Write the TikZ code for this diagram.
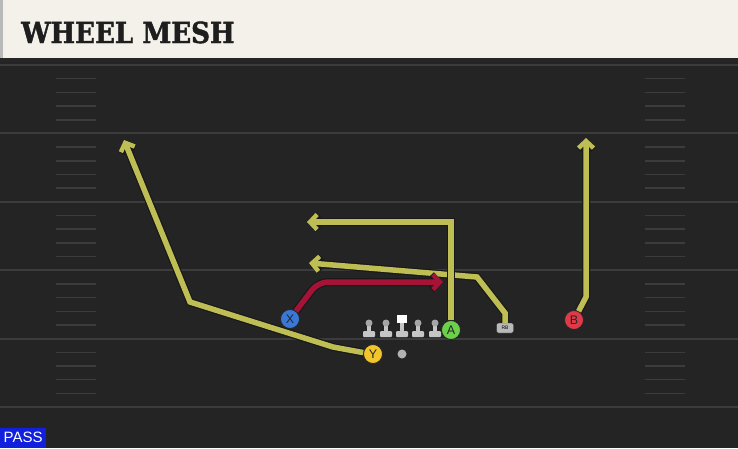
\documentclass[tikz,border=0pt]{standalone}
\usepackage{fontspec}
\setmainfont{Liberation Sans}
\newfontfamily\titlefont[FakeStretch=0.9, BoldFeatures={FakeBold=1.5}]{DejaVu Serif}
\usetikzlibrary{arrows.meta}

\definecolor{fieldbg}{RGB}{36,36,36}
\definecolor{yardline}{RGB}{60,60,60}
\definecolor{cream}{RGB}{244,241,234}
\definecolor{titleink}{RGB}{30,30,30}
\definecolor{routecol}{RGB}{190,190,85}
\definecolor{redroute}{RGB}{165,20,55}
\definecolor{passblue}{RGB}{16,32,220}
\definecolor{xblue}{RGB}{58,120,216}
\definecolor{yyellow}{RGB}{242,197,42}
\definecolor{agreen}{RGB}{108,208,74}
\definecolor{bred}{RGB}{224,58,72}

\tikzset{
  player/.style={circle, draw=black!85, line width=0.8pt, minimum size=19pt,
    inner sep=0pt, text=black!85, font=\fontsize{12.5}{12.5}\selectfont},
  rb/.style={draw=black!85, fill=gray!55, rounded corners=2pt, minimum width=17pt,
    minimum height=10pt, inner sep=0pt, font=\fontsize{5}{5}\selectfont},
  route/.style={draw=routecol, line width=5.5pt, line join=miter,
    -{Straight Barb[length=7pt,width=15pt,line width=4.5pt]},
    preaction={draw=black!90, line width=8pt,
      -{Straight Barb[length=7pt,width=15pt,line width=6.5pt]}}},
  lineman/.style={fill=gray!45}
}

\begin{document}
\begin{tikzpicture}[x=1pt, y=-1pt]
    \useasboundingbox (0,0) rectangle (738,448);
    % field
    \fill[fieldbg] (0,0) rectangle (738,448);
    \foreach \k in {0, ..., 5}
        \draw[yardline, line width=2pt] (0, 65+68.4*\k) -- (738, 65+68.4*\k);
    \foreach \k in {0, ..., 4}
        \foreach \j in {1, ..., 4} {
            \draw[yardline, line width=1.5pt] (56, 65+68.4*\k+13.7*\j) -- (96, 65+68.4*\k+13.7*\j);
            \draw[yardline, line width=1.5pt] (645, 65+68.4*\k+13.7*\j) -- (685, 65+68.4*\k+13.7*\j);
        }
    % header
    \fill[black!85] (0,58) rectangle (738,62);
    \fill[cream] (0,0) rectangle (738,58);
    \fill[gray!55] (0,0) rectangle (3,58);
    \node[anchor=base west, inner sep=0pt, text=titleink,
          font=\titlefont\bfseries\fontsize{29}{29}\selectfont] (title) at (21,43) {WHEEL MESH};
    \node[fill=passblue, text=white, anchor=south west, minimum width=46pt, minimum height=20pt,
          inner sep=0pt, font=\fontsize{15}{15}\selectfont] (pass) at (0,448) {PASS};
    % line
    \foreach \x in {369, 386, 418, 435} {
        \fill[lineman] (\x-1.8,323) rectangle (\x+1.8,333);
        \fill[lineman, rounded corners=1pt] (\x-6,331) rectangle (\x+6,337);
        \fill[gray!70] (\x,323) circle [radius=3.5];
    }
    \fill[lineman] (400.2,320) rectangle (403.8,333);
    \fill[lineman, rounded corners=1pt] (396,331) rectangle (408,337);
    \fill[white] (397,315) rectangle (407,323);
    \fill[gray!60] (402,354) circle [radius=4.5];
    % players
    \node[player, fill=xblue] (X) at (290,319) {X};
    \node[player, fill=yyellow] (Y) at (373,354) {Y};
    \node[player, fill=agreen] (A) at (451,330) {A};
    \node[player, fill=bred] (B) at (574,320) {B};
    \node[rb] (RB) at (505,328) {RB};
    % route ends
    \coordinate (Yend) at (124,140);
    \coordinate (Aend) at (307,222);
    \coordinate (RBend) at (309,263);
    \coordinate (Bend) at (586,138);
    \coordinate (Xend) at (443,282);
    % routes
    \draw[route] (Y) -- (360,352) -- (333,347) -- (190,302) -- (Yend);
    \draw[route] (RB) -- (505,313) -- (477,277) -- (RBend);
    \draw[route] (A) -- (451,222) -- (Aend);
    \draw[route] (B) -- (586,297) -- (Bend);
    \draw[route, draw=redroute, rounded corners=10pt] (X) -- (318,282) -- (Xend);
\end{tikzpicture}
\end{document}
